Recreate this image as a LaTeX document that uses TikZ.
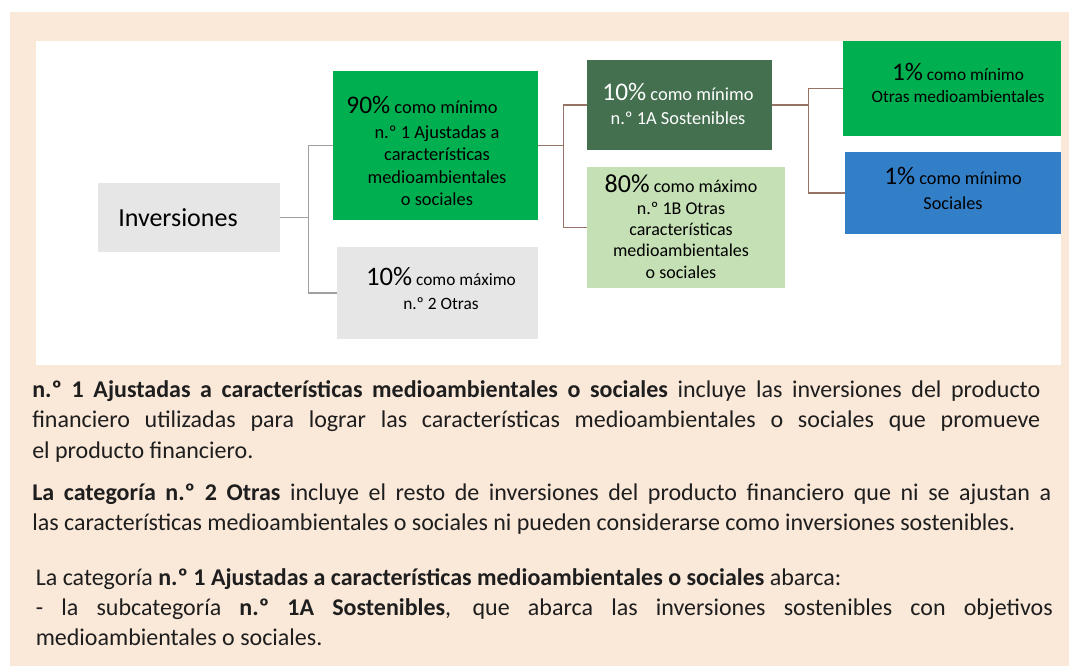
\documentclass[tikz,border=0pt]{standalone}
\usepackage{fontspec}
\setmainfont{Carlito}
\definecolor{bgbeige}{RGB}{250,232,217}
\definecolor{cgreen}{RGB}{0,176,80}
\definecolor{cdark}{RGB}{68,112,80}
\definecolor{clight}{RGB}{197,224,180}
\definecolor{cblue}{RGB}{50,127,200}
\definecolor{cgrey}{RGB}{230,230,230}
\definecolor{linegrey}{RGB}{160,160,160}
\definecolor{linebrown}{RGB}{150,115,100}
\definecolor{textdark}{RGB}{30,30,30}
\newcommand\firstl{\rule{0pt}{15pt}}
\newcommand\pctx[2]{{\fontsize{#1}{#1}\selectfont #2}}
\begin{document}
\begin{tikzpicture}[x=0.75pt,y=-0.75pt,
  box/.style={rectangle, draw=none, inner sep=0pt},
  txt/.style={inner sep=0pt, align=center, anchor=north, text=black},
  para/.style={inner sep=0pt, align=left, anchor=north west, text=textdark,
    font=\fontsize{18}{22.6}\selectfont},
  conngrey/.style={draw=linegrey, line width=1.1pt},
  connbrown/.style={draw=linebrown, line width=1.1pt}]
\useasboundingbox (0,0) rectangle (1069,666);
\fill[bgbeige] (10,12) rectangle (1069,666);
\fill[white] (36,41) rectangle (1061,365);

% boxes
\node[box, fill=cgrey, minimum width={182*0.75pt}, minimum height={69*0.75pt}] (inv) at (189,217.5) {};
\node[box, fill=cgreen, minimum width={205*0.75pt}, minimum height={149*0.75pt}] (n90) at (435.5,145.5) {};
\node[box, fill=cgrey, minimum width={201*0.75pt}, minimum height={92*0.75pt}] (n10) at (437.5,293) {};
\node[box, fill=cdark, minimum width={185*0.75pt}, minimum height={90*0.75pt}] (n1a) at (679.5,105) {};
\node[box, fill=clight, minimum width={198*0.75pt}, minimum height={121*0.75pt}] (n1b) at (686,227.5) {};
\node[box, fill=cgreen, minimum width={218*0.75pt}, minimum height={95*0.75pt}] (nam) at (952,88.5) {};
\node[box, fill=cblue, minimum width={216*0.75pt}, minimum height={82*0.75pt}] (nsoc) at (953,193) {};

% box texts
\node[inner sep=0pt, anchor=base west, font=\fontsize{19.5}{19.5}\selectfont] (tinv) at (118,227) {Inversiones};
\node[txt, font=\fontsize{13.8}{16.8}\selectfont] (t90) at (437,93)
  {\firstl\pctx{19}{90\%} como mínimo\hspace*{22.5pt}\\[1.95pt] n.º 1 Ajustadas a\\ características\\ medioambientales\\ o sociales};
\node[txt, font=\fontsize{13}{18}\selectfont] (t10) at (441,265)
  {\firstl\pctx{20}{10\%} como máximo\\ n.º 2 Otras};
\node[txt, text=white, font=\fontsize{13.8}{18}\selectfont] (t1a) at (678,80)
  {\firstl\pctx{19}{10\%} como mínimo\\ n.º 1A Sostenibles};
\node[txt, font=\fontsize{13.5}{16}\selectfont] (t1b) at (681,172.7)
  {\firstl\pctx{19.5}{80\%} como máximo\\ n.º 1B Otras\\ características\\ medioambientales\\ o sociales};
\node[txt, font=\fontsize{13}{17}\selectfont] (tam) at (958,60)
  {\firstl\pctx{19}{1\%} como mínimo\\ Otras medioambientales};
\node[txt, font=\fontsize{13.7}{18.75}\selectfont] (tsoc) at (953,164)
  {\firstl\pctx{19}{1\%} como mínimo\\ Sociales};

% connectors
\draw[conngrey] (inv.east) -- ++(28,0) |- (n90.west);
\draw[conngrey] (inv.east) -- ++(28,0) |- (n10.west);
\draw[connbrown] (n90.east) -- ++(25,0) |- (n1a.west);
\draw[connbrown] (n90.east) -- ++(25,0) |- (n1b.west);
\draw[connbrown] (n1a.east) -- ++(36,0) |- (nam.west);
\draw[connbrown] (n1a.east) -- ++(36,0) |- (nsoc.west);

% paragraphs
\node[para] (p1) at (32,377.5)
  {\firstl\makebox[756pt][s]{\textbf{n.º 1 Ajustadas a características medioambientales o sociales} incluye las inversiones del producto}\\
   \makebox[756pt][s]{financiero utilizadas para lograr las características medioambientales o sociales que promueve}\\
   el producto financiero.};
\node[para] (p2) at (32,480)
  {\firstl\makebox[764.25pt][s]{\textbf{La categoría n.º 2 Otras} incluye el resto de inversiones del producto financiero que ni se ajustan a}\\
   las características medioambientales o sociales ni pueden considerarse como inversiones sostenibles.};
\node[para] (p3) at (35.5,565)
  {\firstl La categoría \textbf{n.º 1 Ajustadas a características medioambientales o sociales} abarca:\\
   \makebox[762.75pt][s]{- la subcategoría \textbf{n.º 1A Sostenibles}, que abarca las inversiones sostenibles con objetivos}\\
   medioambientales o sociales.};
\end{tikzpicture}
\end{document}
